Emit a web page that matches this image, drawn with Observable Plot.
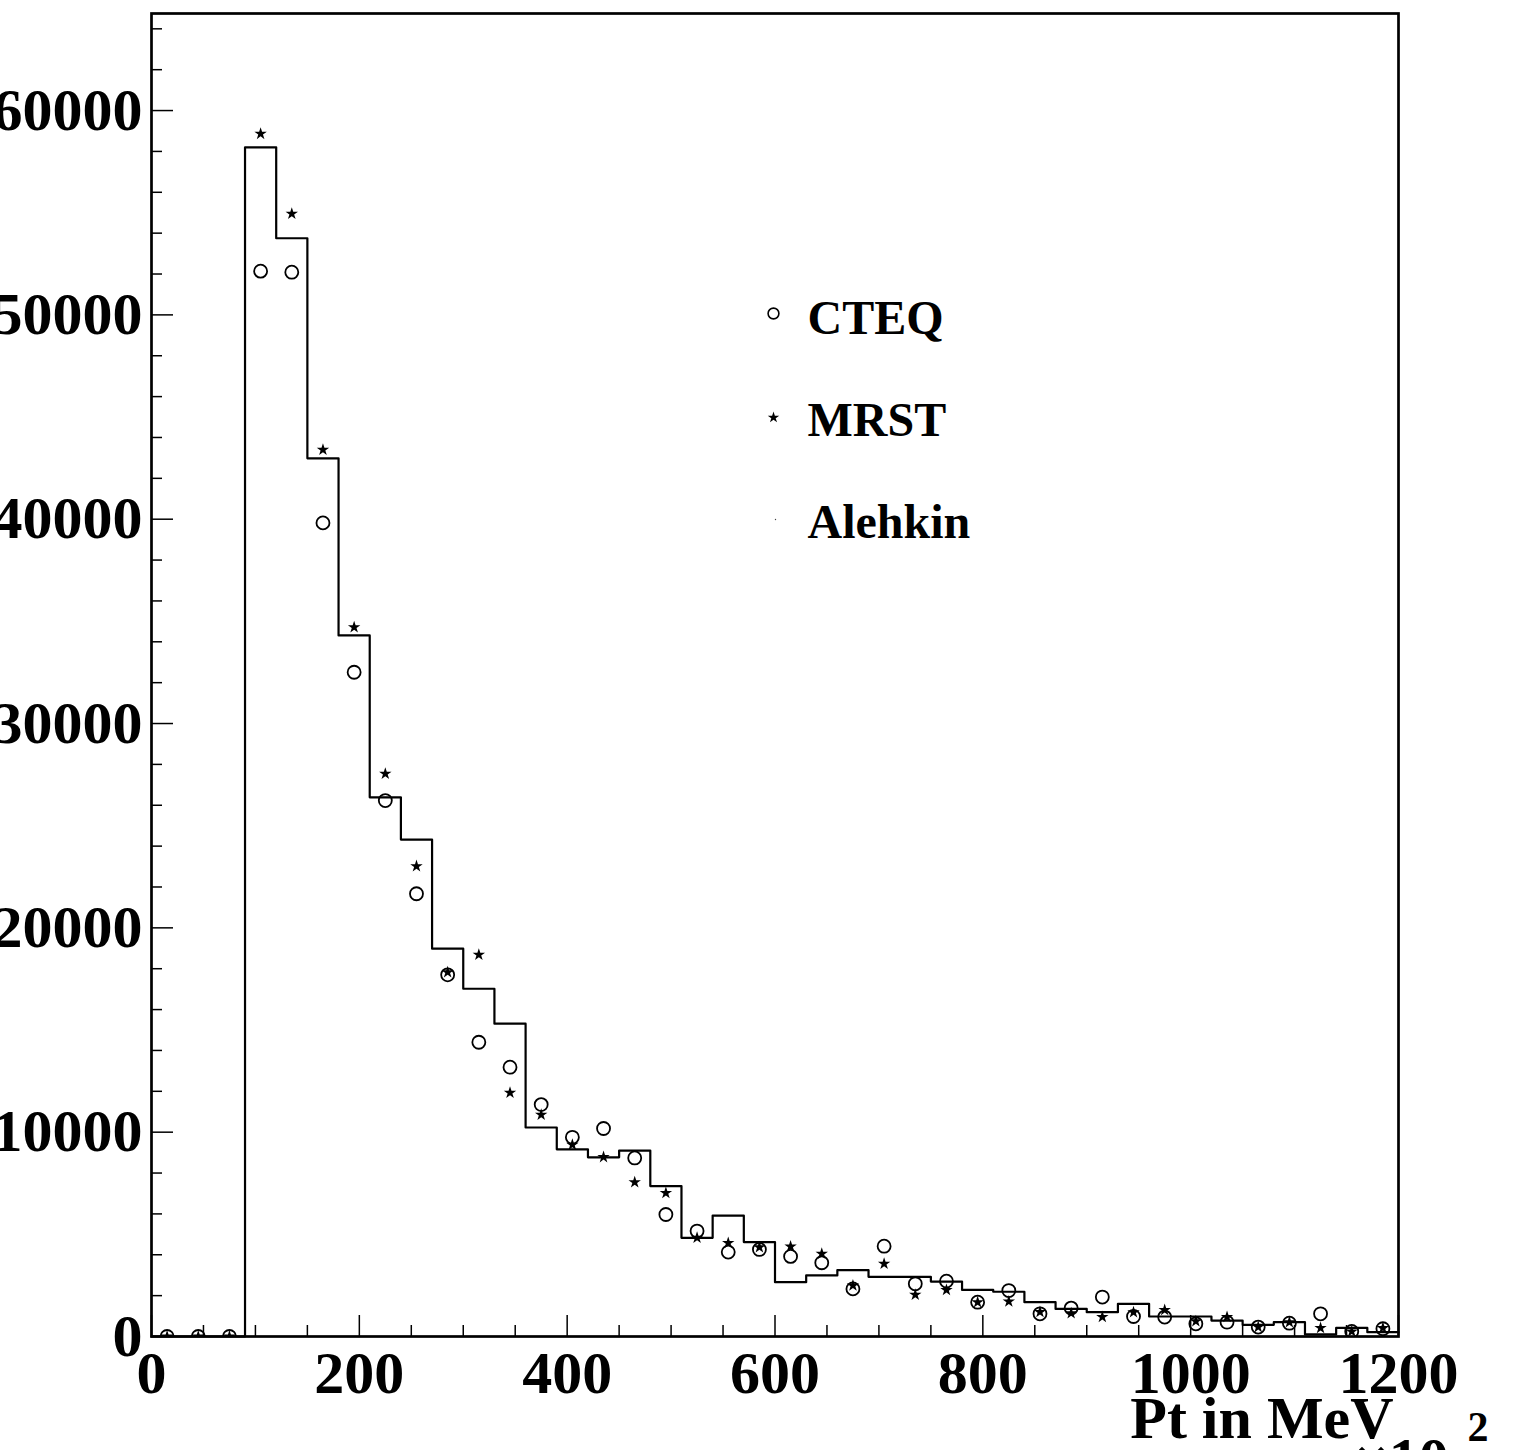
<!DOCTYPE html>
<html>
<head>
<meta charset="utf-8">
<script src="https://cdn.jsdelivr.net/npm/d3@7"></script>
<script src="https://cdn.jsdelivr.net/npm/@observablehq/plot@0.6"></script>
<style>
  html, body { margin: 0; padding: 0; background: white; overflow: hidden; }
</style>
</head>
<body>
<div id="chart"></div>
<script>
// ---- Data (Pt in MeV x10^2, bins of 30 from 0 to 1200) ----
const binWidth = 30;
const alehkin = [0, 0, 0, 58200, 53750, 42980, 34310, 26390, 24320, 18980,
  17020, 15310, 10230, 9160, 8770, 9100, 7360, 4830, 5920, 4620,
  2660, 2990, 3250, 2920, 2920, 2690, 2280, 2190, 1680, 1350,
  1190, 1600, 980, 980, 780, 570, 700, 100, 420, 210];
const cteq = [0, 0, 0, 52140, 52090, 39820, 32510, 26230, 21670, 17700,
  14400, 13180, 11350, 9750, 10180, 8740, 5970, 5160, 4130, 4260,
  3920, 3610, 2330, 4420, 2580, 2710, 1680, 2250, 1110, 1390,
  1930, 980, 950, 620, 700, 460, 650, 1110, 250, 380];
const mrst = [0, 0, 0, 58860, 54950, 43400, 34710, 27540, 23020, 17830,
  18680, 11930, 10850, 9380, 8780, 7550, 7020, 4830, 4580, 4370,
  4400, 4050, 2500, 3560, 2040, 2280, 1680, 1710, 1200, 1140,
  950, 1190, 1300, 750, 950, 460, 700, 420, 250, 410];
const xTickLabels = [0, 200, 400, 600, 800, 1000, 1200];
const yTickLabels = [0, 10000, 20000, 30000, 40000, 50000, 60000];
const legendLabels = ["CTEQ", "MRST", "Alehkin"];
const xTitle = "Pt in MeV";
const xExponentBase = "\u00d710";
const xExponent = "2";

// ---- Derived tables ----
const centers = alehkin.map((_, i) => i * binWidth + binWidth / 2);
const cteqPts = cteq.map((v, i) => ({x: centers[i], y: v}));
const mrstPts = mrst.map((v, i) => ({x: centers[i], y: v}));
const stepPts = alehkin.map((v, i) => ({x: i * binWidth, y: v}));
stepPts.push({x: alehkin.length * binWidth, y: alehkin[alehkin.length - 1]});

const xMinor = d3.range(0, 1201, 50).filter(d => d % 200 !== 0);
const yMinor = d3.range(0, 64001, 2000).filter(d => d % 10000 !== 0);

const W = 1513, H = 1450, ML = 151, MR = 115, MT = 13, MB = 114;
const PW = W - ML - MR, PH = H - MT - MB;
const serif = "'Liberation Serif', 'Times New Roman', Times, serif";

const legendMarks = [];
legendLabels.forEach((lab, i) => {
  const rowY = 300 + i * 102;
  legendMarks.push(Plot.text([lab], {
    frameAnchor: "top-left", dx: 656, dy: rowY + 20, text: d => d,
    textAnchor: "start", lineAnchor: "bottom", fontSize: 48, fontWeight: "bold",
    fontFamily: serif, fill: "black"
  }));
});
legendMarks.push(Plot.dot([legendLabels[0]], {frameAnchor: "top-left", dx: 622, dy: 300, r: 5.4, stroke: "black", strokeWidth: 1.6, fill: "none"}));
legendMarks.push(Plot.dot([legendLabels[1]], {frameAnchor: "top-left", dx: 622, dy: 404, r: 3.6, symbol: "star", fill: "black", stroke: "none"}));
legendMarks.push(Plot.dot([legendLabels[2]], {frameAnchor: "top-left", dx: 624, dy: 506, r: 0.7, fill: "#444", stroke: "none"}));

const chart = Plot.plot({
  width: W, height: H,
  marginLeft: ML, marginRight: MR, marginTop: MT, marginBottom: MB,
  x: {domain: [0, 1200]},
  y: {domain: [0, 64750]},
  style: {fontFamily: serif, background: "white", color: "black", overflow: "visible"},
  marks: [
    // histogram (Alehkin)
    Plot.line(stepPts, {x: "x", y: "y", curve: "step-after", stroke: "black", strokeWidth: 2.2}),
    // CTEQ circles
    Plot.dot(cteqPts, {x: "x", y: "y", r: 6.5, stroke: "black", strokeWidth: 1.8, fill: "none", clip: true}),
    // MRST stars
    Plot.dot(mrstPts, {x: "x", y: "y", r: 3.9, symbol: "star", fill: "black", stroke: "none", clip: true}),
    // inward ticks
    Plot.tickY(yTickLabels, {y: d => d, insetRight: PW - 22, stroke: "black", strokeWidth: 1.5}),
    Plot.tickY(yMinor, {y: d => d, insetRight: PW - 11, stroke: "black", strokeWidth: 1.5}),
    Plot.tickX(xTickLabels, {x: d => d, insetTop: PH - 21, stroke: "black", strokeWidth: 1.5}),
    Plot.tickX(xMinor, {x: d => d, insetTop: PH - 11, stroke: "black", strokeWidth: 1.5}),
    // axes labels
    Plot.axisX(xTickLabels, {tickSize: 0, tickPadding: 14, fontSize: 60, fontWeight: "bold", tickFormat: d => String(d), label: null, fill: "black"}),
    Plot.axisY(yTickLabels, {tickSize: 0, tickPadding: 9, fontSize: 60, fontWeight: "bold", tickFormat: d => String(d), label: null, fill: "black"}),
    // frame
    Plot.frame({stroke: "black", strokeWidth: 2.7}),
    // axis title
    Plot.text([xTitle], {frameAnchor: "bottom-right", dx: -5, dy: 101, text: d => d, textAnchor: "end", lineAnchor: "bottom", fontSize: 60, fontWeight: "bold", fill: "black"}),
    Plot.text([xExponentBase], {frameAnchor: "bottom-right", dx: -44, dy: 142, text: d => d, textAnchor: "start", lineAnchor: "bottom", fontSize: 60, fontWeight: "bold", fill: "black"}),
    Plot.text([xExponent], {frameAnchor: "bottom-right", dx: 69, dy: 104, text: d => d, textAnchor: "start", lineAnchor: "bottom", fontSize: 42, fontWeight: "bold", fill: "black"}),
    ...legendMarks
  ]
});
document.getElementById("chart").appendChild(chart);
</script>
</body>
</html>
